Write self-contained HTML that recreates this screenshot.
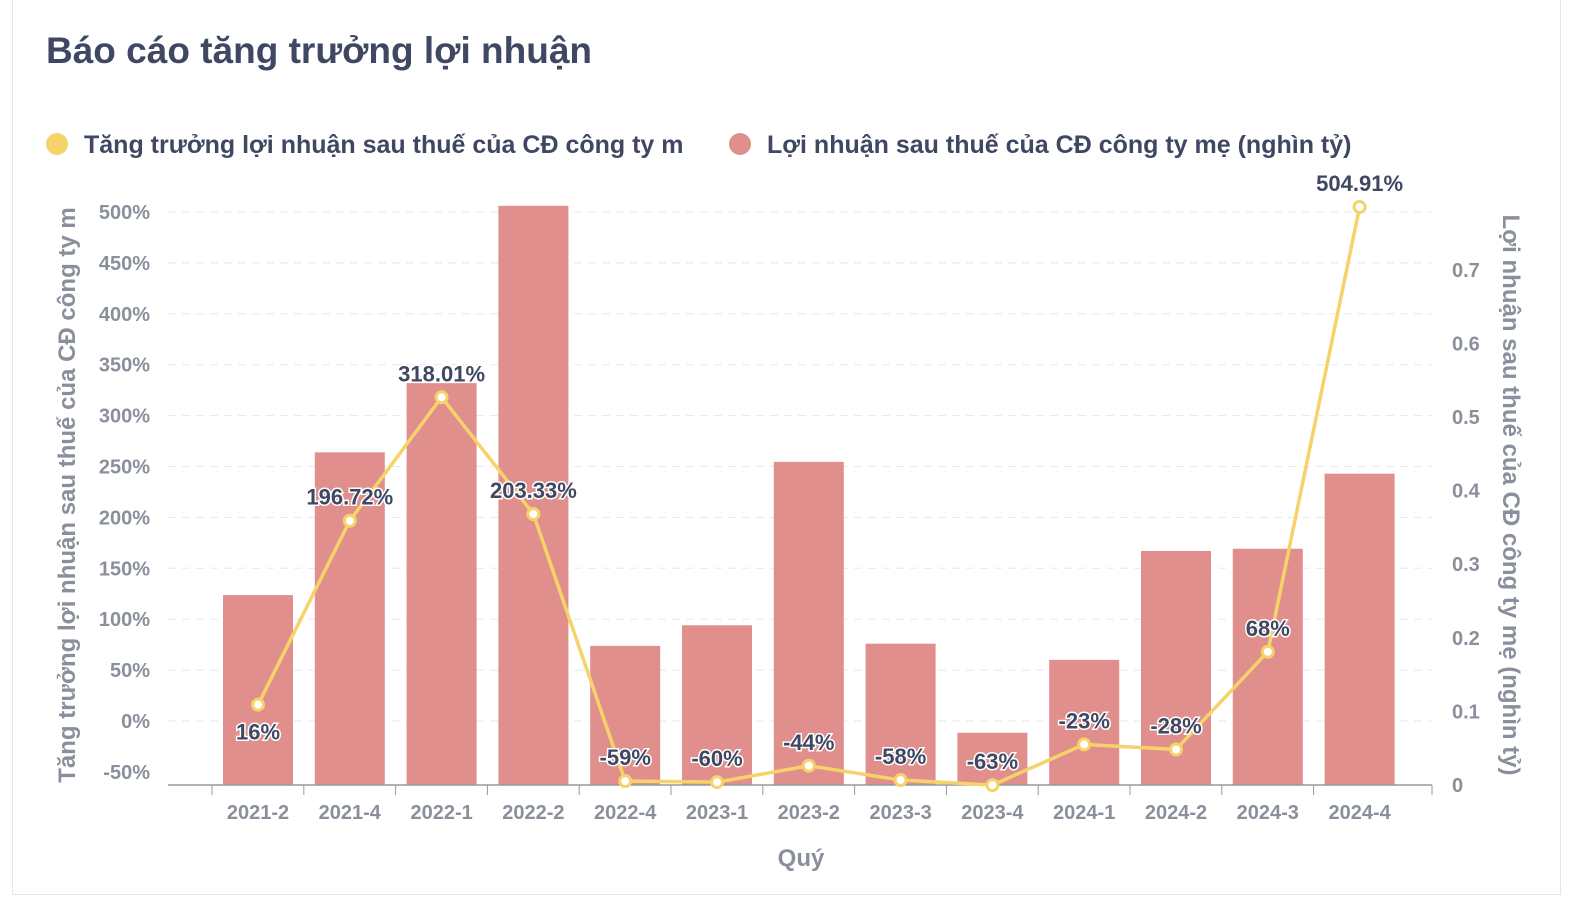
<!DOCTYPE html>
<html><head><meta charset="utf-8"><style>
body{margin:0;background:#fff;font-family:"Liberation Sans",sans-serif;}
#card{position:absolute;left:12px;top:-2px;width:1549px;height:897px;border:1px solid #e6e6e6;box-sizing:border-box;}
h1{position:absolute;left:46px;top:30px;margin:0;font-size:37px;font-weight:bold;color:#3f4763;}
svg{position:absolute;left:0;top:0;}
</style></head><body>
<div id="card"></div>
<h1>Báo cáo tăng trưởng lợi nhuận</h1>
<svg id="c" width="1582" height="908"></svg>
<script>
const categories=["2021-2","2021-4","2022-1","2022-2","2022-4","2023-1","2023-2","2023-3","2023-4","2024-1","2024-2","2024-3","2024-4"];
const profit=[0.258,0.452,0.546,0.787,0.189,0.217,0.439,0.192,0.071,0.170,0.318,0.321,0.423];
const growth=[16,196.72,318.01,203.33,-59,-60,-44,-58,-63,-23,-28,68,504.91];
const growthLabels=["16%","196.72%","318.01%","203.33%","-59%","-60%","-44%","-58%","-63%","-23%","-28%","68%","504.91%"];
const leftTicks=[-50,0,50,100,150,200,250,300,350,400,450,500];
const rightTicks=[0,0.1,0.2,0.3,0.4,0.5,0.6,0.7];
const NS="http://www.w3.org/2000/svg",svg=document.getElementById('c');
function yL(v){return 721-v*1.018;}
function yR(v){return 785-v*736;}
function xC(i){return 258+i*91.8;}
function mk(t,a,txt){const e=document.createElementNS(NS,t);for(const k in a)e.setAttribute(k,a[k]);if(txt!==undefined)e.textContent=txt;svg.appendChild(e);return e;}
const gc="#6b7280";
leftTicks.forEach(v=>{
 if(v>-50){const g=mk('line',{x1:168,x2:1432,y1:yL(v),y2:yL(v),stroke:'#e8e8e8','stroke-dasharray':'8,6'});
 }
 const t=mk('text',{x:150,y:yL(v)+7,'text-anchor':'end','font-size':20,'font-weight':'bold',fill:'#8a8f9c'},v+'%');
 
});
rightTicks.forEach(v=>{
 const t=mk('text',{x:1452,y:yR(v)+7,'font-size':20,'font-weight':'bold',fill:'#8a8f9c'},v===0?'0':v.toFixed(1));
 
});
profit.forEach((v,i)=>{
 const r=mk('rect',{x:xC(i)-35,y:yR(v),width:70,height:785-yR(v),fill:'#e08f8c'});
 
});
const ax=mk('line',{x1:168,x2:1432,y1:785,y2:785,stroke:'#999','stroke-width':1.5});

categories.forEach((c,i)=>{
 const tk=mk('line',{x1:xC(i)-46,x2:xC(i)-46,y1:785,y2:795,stroke:'#999'});
 
 const t=mk('text',{x:xC(i),y:819,'text-anchor':'middle','font-size':20,'font-weight':'bold',fill:'#8a8f9c'},c);
 
});
const tk2=mk('line',{x1:1432,x2:1432,y1:785,y2:795,stroke:'#999'});

const pl=mk('polyline',{points:growth.map((v,i)=>xC(i)+','+yL(v)).join(' '),fill:'none',stroke:'#f5d36a','stroke-width':3.5});

growth.forEach((v,i)=>{
 const p=mk('circle',{cx:xC(i),cy:yL(v),r:5.5,fill:'#fff',stroke:'#f5d36a','stroke-width':3});
 
 const below=i===0;
 const t=mk('text',{x:xC(i),y:below?yL(v)+35:yL(v)-16,'text-anchor':'middle','font-size':22,'font-weight':'bold',fill:'#3f4763',stroke:'#fff','stroke-width':3,'paint-order':'stroke'},growthLabels[i]);
 
});
const xt=mk('text',{x:801,y:866,'text-anchor':'middle','font-size':24,'font-weight':'bold',fill:'#8a8f9c'},'Quý');

const lt=mk('text',{x:0,y:0,transform:'translate(75,495) rotate(-90)','text-anchor':'middle','font-size':24,'font-weight':'bold',fill:'#8a8f9c'},'Tăng trưởng lợi nhuận sau thuế của CĐ công ty m');

const rt=mk('text',{x:0,y:0,transform:'translate(1503,495) rotate(90)','text-anchor':'middle','font-size':24,'font-weight':'bold',fill:'#8a8f9c'},'Lợi nhuận sau thuế của CĐ công ty mẹ (nghìn tỷ)');

const l1=mk('circle',{cx:57,cy:144,r:11,fill:'#f5d36a'});

const l1t=mk('text',{x:84,y:153,'font-size':25,'font-weight':'bold',fill:'#3f4763'},'Tăng trưởng lợi nhuận sau thuế của CĐ công ty m');

const l2=mk('circle',{cx:740,cy:144,r:11,fill:'#e08f8c'});

const l2t=mk('text',{x:767,y:153,'font-size':25,'font-weight':'bold',fill:'#3f4763'},'Lợi nhuận sau thuế của CĐ công ty mẹ (nghìn tỷ)');

</script>
</body></html>
